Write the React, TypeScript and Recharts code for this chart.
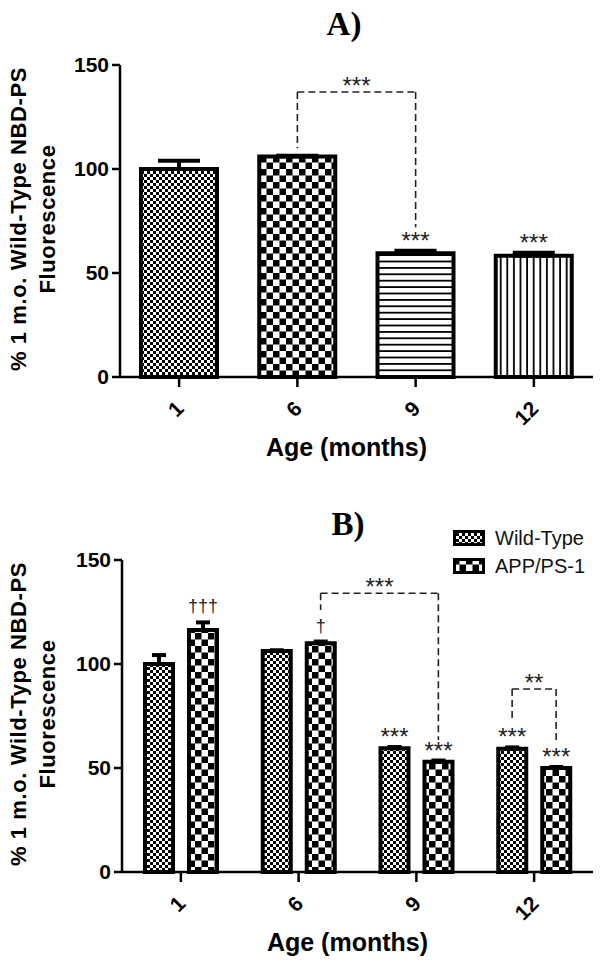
import React from "react";
import { BarChart, Bar, XAxis, YAxis, ErrorBar, Cell, LabelList, ReferenceLine, Legend } from "recharts";

const SANS = "'Liberation Sans', Arial, Helvetica, sans-serif";
const SERIF = "'Liberation Serif', 'Times New Roman', serif";

const ages = ["1", "6", "9", "12"];
const yTicks = [0, 50, 100, 150];
const yTitleLines = ["% 1 m.o. Wild-Type NBD-PS", "Fluorescence"];
const xTitle = "Age (months)";
const panelTitles = ["A)", "B)"];

// panel A - wild-type only
const meanA = [100, 106, 59.5, 58.3];
const semA = [4, 0.4, 1.2, 1.4];
const marksA = ["", "", "***", "***"];

// panel B - wild-type vs APP/PS-1
const seriesNames = ["Wild-Type", "APP/PS-1"];
const meanWT = [100, 106.2, 59.5, 59.3];
const semWT = [4.3, 0.4, 0.6, 0.6];
const meanAPP = [116.3, 110, 53, 50];
const semAPP = [3.7, 0.8, 0.6, 0.5];
const marksWT = ["", "", "***", "***"];
const marksAPP = ["\u2020\u2020\u2020", "\u2020", "***", "***"];

// significance brackets, levels in data units
const bracketsA = [{ from: "6", fromSeries: "wt", to: "9", toSeries: "wt", top: 137, fromEnd: 110, toEnd: 72, text: "***" }];
const bracketsB = [
  { from: "6", fromSeries: "app", to: "9", toSeries: "app", top: 134, fromEnd: 126, toEnd: 63.5, text: "***" },
  { from: "12", fromSeries: "wt", to: "12", toSeries: "app", top: 88, fromEnd: 73, toEnd: 63.5, text: "**" },
];

const dataA = ages.map((age, i) => ({ age, value: meanA[i], err: [0, semA[i]], mark: marksA[i] }));
const dataB = ages.map((age, i) => ({
  age,
  wt: meanWT[i],
  wtErr: [0, semWT[i]],
  wtMark: marksWT[i],
  app: meanAPP[i],
  appErr: [0, semAPP[i]],
  appMark: marksAPP[i],
}));

const BAR_B = 28;
const GAP_B = 16;
const DASH = "7 4";

const axisStroke = { stroke: "#000", strokeWidth: 2.5 };

const Patterns = (p: string) => (
  <defs>
    <pattern id={`${p}-fine`} patternUnits="userSpaceOnUse" width={6} height={6}>
      <rect width={6} height={6} fill="#fff" />
      <rect width={3} height={3} fill="#000" />
      <rect x={3} y={3} width={3} height={3} fill="#000" />
    </pattern>
    <pattern id={`${p}-coarse`} patternUnits="userSpaceOnUse" width={13} height={13}>
      <rect width={13} height={13} fill="#fff" />
      <rect width={6.5} height={6.5} fill="#000" />
      <rect x={6.5} y={6.5} width={6.5} height={6.5} fill="#000" />
    </pattern>
    <pattern id={`${p}-hlines`} patternUnits="userSpaceOnUse" width={8} height={6.4}>
      <rect width={8} height={6.4} fill="#fff" />
      <rect y={4.6} width={8} height={1.8} fill="#000" />
    </pattern>
    <pattern id={`${p}-vlines`} patternUnits="userSpaceOnUse" width={6.6} height={8}>
      <rect width={6.6} height={8} fill="#fff" />
      <rect x={4.8} width={1.8} height={8} fill="#000" />
    </pattern>
  </defs>
);

const AgeTick = (props: any) => {
  const { x, y, payload } = props;
  return (
    <text
      transform={`translate(${x + 6},${y + 23}) rotate(-45)`}
      textAnchor="end"
      fontFamily={SANS}
      fontSize={21}
      fontWeight={700}
      fill="#000"
    >
      {payload.value}
    </text>
  );
};

const yTitle = (props: any) => {
  const vb = props.viewBox;
  const cy = vb.y + vb.height / 2 - 2;
  return (
    <g fontFamily={SANS} fontSize={22} fontWeight={700} fill="#000" letterSpacing={0.6}>
      <text transform={`translate(${vb.x + 26},${cy}) rotate(-90)`} textAnchor="middle">{yTitleLines[0]}</text>
      <text transform={`translate(${vb.x + 55},${cy}) rotate(-90)`} textAnchor="middle">{yTitleLines[1]}</text>
    </g>
  );
};

const xTitleLabel = (props: any) => {
  const vb = props.viewBox;
  return (
    <text x={vb.x + vb.width / 2 - 10} y={vb.y + 79} textAnchor="middle" fontFamily={SANS} fontSize={25} fontWeight={700} fill="#000">
      {xTitle}
    </text>
  );
};

// stars / daggers just above the error bar
const markContent = (means: number[], sems: number[]) => (props: any) => {
  const { value, index } = props;
  if (!value) return null;
  const vb = props.viewBox ?? props;
  const x = vb.x ?? props.x;
  const y = vb.y ?? props.y;
  const w = vb.width ?? props.width;
  const h = vb.height ?? props.height;
  const perUnit = h / means[index];
  const errTop = y - sems[index] * perUnit;
  const dagger = String(value).includes("\u2020");
  return (
    <text
      x={x + w / 2}
      y={errTop - (dagger ? 10 : 2)}
      textAnchor="middle"
      fontFamily={SANS}
      fontSize={dagger ? 18 : 24}
      fill="#222"
    >
      {value}
    </text>
  );
};

const segment = (key: string, p1: any, p2: any, dx1: number, dx2: number, text?: string) => (
  <ReferenceLine
    key={key}
    segment={[p1, p2]}
    stroke="#222"
    strokeWidth={1.6}
    strokeDasharray={DASH}
    ifOverflow="visible"
    shape={(s: any) => (
      <g>
        <line x1={s.x1 + dx1} y1={s.y1} x2={s.x2 + dx2} y2={s.y2} stroke="#222" strokeWidth={1.6} strokeDasharray={DASH} />
        {text ? (
          <text x={(s.x1 + dx1 + s.x2 + dx2) / 2} y={s.y1 + 2} textAnchor="middle" fontFamily={SANS} fontSize={24} fill="#222">
            {text}
          </text>
        ) : null}
      </g>
    )}
  />
);

const bracketLines = (list: any[], shift: Record<string, number>, prefix: string) =>
  list.flatMap((b, i) => {
    const d1 = shift[b.fromSeries];
    const d2 = shift[b.toSeries];
    return [
      segment(`${prefix}${i}h`, { x: b.from, y: b.top }, { x: b.to, y: b.top }, d1, d2, b.text),
      segment(`${prefix}${i}l`, { x: b.from, y: b.top }, { x: b.from, y: b.fromEnd }, d1, d1),
      segment(`${prefix}${i}r`, { x: b.to, y: b.top }, { x: b.to, y: b.toEnd }, d2, d2),
    ];
  });

const fillsA = ["a-fine", "a-coarse", "a-hlines", "a-vlines"];
const fillsB = ["b-fine", "b-coarse"];

const renderLegend = (props: any) => {
  const payload = [...(props.payload ?? [])].sort(
    (a: any, b: any) => seriesNames.indexOf(a.value) - seriesNames.indexOf(b.value)
  );
  return (
    <div style={{ fontFamily: SANS, fontSize: 20, color: "#111" }}>
      {payload.map((entry: any) => (
        <div key={entry.value} style={{ display: "flex", alignItems: "center", height: 28 }}>
          <svg width={32} height={16} style={{ display: "block" }}>
            <rect
              x={1.5}
              y={1.5}
              width={29}
              height={13}
              fill={`url(#${fillsB[seriesNames.indexOf(entry.value)]})`}
              stroke="#000"
              strokeWidth={3}
            />
          </svg>
          <span style={{ marginLeft: 10 }}>{entry.value}</span>
        </div>
      ))}
    </div>
  );
};

function PanelA() {
  return (
    <BarChart width={603} height={490} data={dataA} barSize={76} margin={{ top: 65, right: 10, bottom: 23, left: 0 }}>
      {Patterns("a")}
      <XAxis
        dataKey="age"
        interval={0}
        height={90}
        tickSize={10}
        tickMargin={0}
        axisLine={axisStroke}
        tickLine={axisStroke}
        tick={<AgeTick />}
        label={{ value: xTitle, content: xTitleLabel }}
      />
      <YAxis
        type="number"
        width={120}
        domain={[0, 150]}
        ticks={yTicks}
        tickSize={8}
        tickMargin={3}
        axisLine={axisStroke}
        tickLine={axisStroke}
        tick={{ fontSize: 21, fontWeight: 700, fill: "#000", fontFamily: SANS }}
        label={{ value: yTitleLines[0], content: yTitle }}
      />
      <Bar dataKey="value" stroke="#000" strokeWidth={4} isAnimationActive={false}>
        {dataA.map((d, i) => (
          <Cell key={d.age} fill={`url(#${fillsA[i]})`} />
        ))}
        <ErrorBar dataKey="err" width={21} stroke="#000" strokeWidth={4} direction="y" isAnimationActive={false} />
        <LabelList dataKey="mark" content={markContent(meanA, semA)} />
      </Bar>
      {bracketLines(bracketsA, { wt: 0 }, "a")}
    </BarChart>
  );
}

function PanelB() {
  const off = (BAR_B + GAP_B) / 2;
  return (
    <BarChart width={603} height={485} data={dataB} barSize={BAR_B} barGap={GAP_B} margin={{ top: 70, right: 10, bottom: 13, left: 0 }}>
      {Patterns("b")}
      <XAxis
        dataKey="age"
        interval={0}
        height={90}
        tickSize={10}
        tickMargin={0}
        axisLine={axisStroke}
        tickLine={axisStroke}
        tick={<AgeTick />}
        label={{ value: xTitle, content: xTitleLabel }}
      />
      <YAxis
        type="number"
        width={122}
        domain={[0, 150]}
        ticks={yTicks}
        tickSize={8}
        tickMargin={3}
        axisLine={axisStroke}
        tickLine={axisStroke}
        tick={{ fontSize: 21, fontWeight: 700, fill: "#000", fontFamily: SANS }}
        label={{ value: yTitleLines[0], content: yTitle }}
      />
      <Legend
        layout="vertical"
        align="center"
        verticalAlign="middle"
        wrapperStyle={{ top: 34, left: 453, width: 150 }}
        content={renderLegend}
      />
      <Bar dataKey="wt" name={seriesNames[0]} fill={`url(#${fillsB[0]})`} stroke="#000" strokeWidth={4} isAnimationActive={false}>
        <ErrorBar dataKey="wtErr" width={7} stroke="#000" strokeWidth={4} direction="y" isAnimationActive={false} />
        <LabelList dataKey="wtMark" content={markContent(meanWT, semWT)} />
      </Bar>
      <Bar dataKey="app" name={seriesNames[1]} fill={`url(#${fillsB[1]})`} stroke="#000" strokeWidth={4} isAnimationActive={false}>
        <ErrorBar dataKey="appErr" width={7} stroke="#000" strokeWidth={4} direction="y" isAnimationActive={false} />
        <LabelList dataKey="appMark" content={markContent(meanAPP, semAPP)} />
      </Bar>
      {bracketLines(bracketsB, { wt: -off, app: off }, "b")}
    </BarChart>
  );
}

export default function App() {
  return (
    <div style={{ position: "absolute", left: 0, top: 0, width: 603, height: 975, background: "#fff", overflow: "hidden" }}>
      <div style={{ position: "absolute", left: 0, top: 0 }}>
        <PanelA />
      </div>
      <div style={{ position: "absolute", left: 0, top: 490 }}>
        <PanelB />
      </div>
      <svg width={603} height={975} style={{ position: "absolute", left: 0, top: 0, pointerEvents: "none" }}>
        <text x={344} y={35} textAnchor="middle" fontFamily={SERIF} fontSize={33} fontWeight={700} fill="#000">
          {panelTitles[0]}
        </text>
        <text x={348} y={535} textAnchor="middle" fontFamily={SERIF} fontSize={33} fontWeight={700} fill="#000">
          {panelTitles[1]}
        </text>
      </svg>
    </div>
  );
}
